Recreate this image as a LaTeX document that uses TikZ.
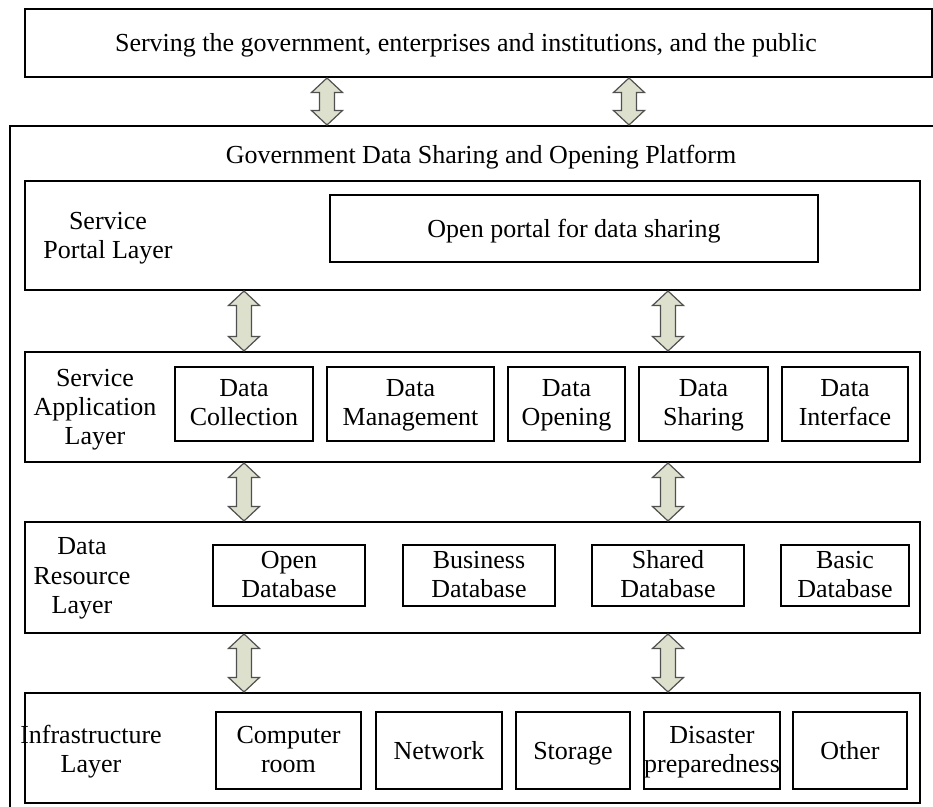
\documentclass[tikz,border=0pt]{standalone}
\usepackage{fontspec}
\setmainfont{Liberation Serif}
\usetikzlibrary{fit,calc}

\definecolor{arrowfill}{RGB}{220,224,204}
\definecolor{arrowline}{RGB}{80,80,80}

\tikzset{
  x=0.5pt, y=-0.5pt,
  every node/.style={font=\fontsize{13}{14.6}\selectfont},
  layerbox/.style={draw, line width=1pt, inner sep=0pt},
  itembox/.style={draw, line width=0.8pt, inner sep=0pt},
  lbl/.style={align=center, inner sep=0pt, yshift=-1.5pt,
    execute at begin node=\strut, execute at end node=\strut},
  linkarrow/.style={draw=arrowline, fill=arrowfill, line width=0.6pt, line join=miter},
}

% box named #1 with style #2 spanning corners #3 and #4, text #5 centred inside
\newcommand{\framedbox}[5]{%
  \node[#2, fit={(#3) (#4)}] (#1) {};
  \node[lbl] (#1-text) at (#1.center) {#5};
}

% two-headed block arrow at horizontal position #1 from node #2 down to node #3
\newcommand{\linkarrow}[3]{%
  \coordinate (ax) at (#1,0);
  \draw[linkarrow] let \p1=(ax |- #2.south), \p2=(ax |- #3.north) in
    (\x1,\y1) -- (\x1+7.75pt,\y1-7.25pt) -- (\x1+3.75pt,\y1-7.25pt)
    -- (\x1+3.75pt,\y2+7.25pt) -- (\x1+7.75pt,\y2+7.25pt) -- (\x1,\y2)
    -- (\x1-7.75pt,\y2+7.25pt) -- (\x1-3.75pt,\y2+7.25pt)
    -- (\x1-3.75pt,\y1-7.25pt) -- (\x1-7.75pt,\y1-7.25pt) -- cycle;
}

\begin{document}
\begin{tikzpicture}
\useasboundingbox (0,0) rectangle (933,807);
\clip (0,0) rectangle (933,807);

% users of the platform
\node[layerbox, fit={(25,9) (932,77)}] (public) {};
\node[lbl] (publictext) at (466,43)
  {Serving the government, enterprises and institutions, and the public};

% platform frame
\node[layerbox, fit={(10,126) (960,840)}] (platform) {};
\node[lbl] (ptitle) at (481,155) {Government Data Sharing and Opening Platform};

% service portal layer
\node[layerbox, fit={(25,181) (920,290)}] (portal) {};
\node[lbl] (portallbl) at (108,237) {Service\\Portal Layer};
\framedbox{openportal}{itembox}{330,195}{818,262}{Open portal for data sharing}

% service application layer
\node[layerbox, fit={(25,352) (920,462)}] (app) {};
\node[lbl] (applbl) at (95,408) {Service\\Application\\Layer};
\framedbox{collect}{itembox}{175,367}{313,441}{Data\\Collection}
\framedbox{manage}{itembox}{327,367}{494,441}{Data\\Management}
\framedbox{opening}{itembox}{508,367}{625,441}{Data\\Opening}
\framedbox{sharing}{itembox}{639,367}{768,441}{Data\\Sharing}
\framedbox{iface}{itembox}{782,367}{908,441}{Data\\Interface}

% data resource layer
\node[layerbox, fit={(25,522) (920,633)}] (resource) {};
\node[lbl] (reslbl) at (82,577) {Data\\Resource\\Layer};
\framedbox{opendb}{itembox}{213,545}{365,606}{Open\\Database}
\framedbox{busdb}{itembox}{403,545}{555,606}{Business\\Database}
\framedbox{shareddb}{itembox}{592,545}{744,606}{Shared\\Database}
\framedbox{basicdb}{itembox}{781,545}{909,606}{Basic\\Database}

% infrastructure layer
\node[layerbox, fit={(25,693) (920,803)}] (infra) {};
\node[lbl] (infralbl) at (91,750) {Infrastructure\\Layer};
\framedbox{room}{itembox}{216,712}{361,789}{Computer\\room}
\framedbox{network}{itembox}{376,712}{502,789}{Network}
\framedbox{storage}{itembox}{516,712}{630,789}{Storage}
\framedbox{disaster}{itembox}{644,712}{780,789}{Disaster\\preparedness}
\framedbox{other}{itembox}{793,712}{907,789}{Other}

% links between layers
\linkarrow{327}{public}{platform}
\linkarrow{629}{public}{platform}
\linkarrow{244}{portal}{app}
\linkarrow{668}{portal}{app}
\linkarrow{244}{app}{resource}
\linkarrow{668}{app}{resource}
\linkarrow{244}{resource}{infra}
\linkarrow{668}{resource}{infra}
\end{tikzpicture}
\end{document}
